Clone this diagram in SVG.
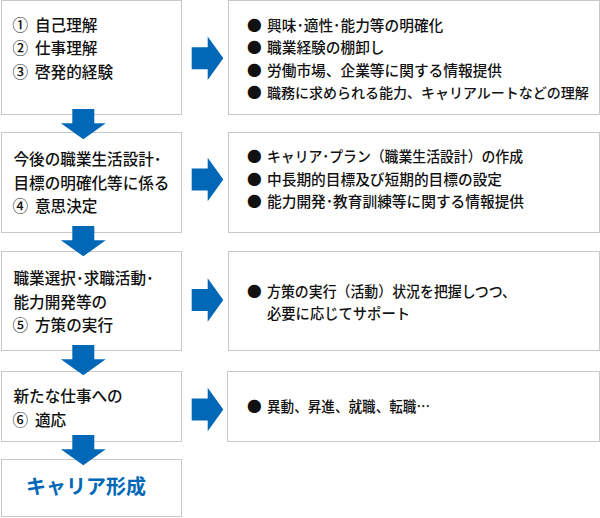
<svg xmlns="http://www.w3.org/2000/svg" xmlns:xlink="http://www.w3.org/1999/xlink" width="600" height="518" viewBox="0 0 600 518">
<style>
.box{fill:#fff;stroke:#c8c8c8;stroke-width:1}
.arw{fill:#0068b7}
.lt{font-family:"Noto Sans CJK JP","Noto Sans",sans-serif;font-size:15.6px;font-weight:500;fill:#111}
.rt{font-family:"Noto Sans CJK JP","Noto Sans",sans-serif;font-size:14.7px;font-weight:500;fill:#111}
.goal{font-family:"Noto Sans CJK JP","Noto Sans",sans-serif;font-size:20px;font-weight:bold;fill:#0068b7}
</style>
<defs>
<path id="ra" d="M0,-11 H16 V-21.7 L31.6,0 L16,21.7 V11 H0 Z"/>
<path id="da" d="M-11,0 H11 V14.3 H22.4 L0,30.3 L-22.4,14.3 H-11 Z"/>
</defs>
<g id="step1">
<rect class="box" x="1.5" y="0.5" width="180" height="114"/>
<text class="lt" y="31"><tspan x="12.5">①</tspan><tspan x="35">自己理解</tspan></text>
<text class="lt" y="54"><tspan x="12.5">②</tspan><tspan x="35">仕事理解</tspan></text>
<text class="lt" y="78"><tspan x="12.5">③</tspan><tspan x="35">啓発的経験</tspan></text>
</g>
<g id="detail1">
<rect class="box" x="228.5" y="0.5" width="371" height="114"/>
<text class="rt" y="30.5"><tspan x="247">●</tspan><tspan x="267">興味･適性･能力等の明確化</tspan></text>
<text class="rt" y="52.5"><tspan x="247">●</tspan><tspan x="267">職業経験の棚卸し</tspan></text>
<text class="rt" y="75.5"><tspan x="247">●</tspan><tspan x="267">労働市場、企業等に関する情報提供</tspan></text>
<text class="rt" y="97.5"><tspan x="247">●</tspan><tspan x="267" style="font-size:14px">職務に求められる能力、キャリアルートなどの理解</tspan></text>
</g>
<g id="step2">
<rect class="box" x="1.5" y="132.5" width="180" height="100"/>
<text class="lt" x="13.5" y="165">今後の職業生活設計･</text>
<text class="lt" x="13.5" y="189">目標の明確化等に係る</text>
<text class="lt" y="212"><tspan x="12.5">④</tspan><tspan x="35">意思決定</tspan></text>
</g>
<g id="detail2">
<rect class="box" x="228.5" y="132.5" width="371" height="100"/>
<text class="rt" y="162"><tspan x="247">●</tspan><tspan x="267" textLength="256" lengthAdjust="spacingAndGlyphs">キャリア･プラン（職業生活設計）の作成</tspan></text>
<text class="rt" y="184.5"><tspan x="247">●</tspan><tspan x="267">中長期的目標及び短期的目標の設定</tspan></text>
<text class="rt" y="206.5"><tspan x="247">●</tspan><tspan x="267">能力開発･教育訓練等に関する情報提供</tspan></text>
</g>
<g id="step3">
<rect class="box" x="1.5" y="251.5" width="180" height="99"/>
<text class="lt" x="13.5" y="284">職業選択･求職活動･</text>
<text class="lt" x="13.5" y="308">能力開発等の</text>
<text class="lt" y="331"><tspan x="12.5">⑤</tspan><tspan x="35">方策の実行</tspan></text>
</g>
<g id="detail3">
<rect class="box" x="228.5" y="251.5" width="371" height="99"/>
<text class="rt" y="297"><tspan x="247">●</tspan><tspan x="267" textLength="249" lengthAdjust="spacingAndGlyphs">方策の実行（活動）状況を把握しつつ、</tspan></text>
<text class="rt" x="267" y="319" textLength="143" lengthAdjust="spacingAndGlyphs">必要に応じてサポート</text>
</g>
<g id="step4">
<rect class="box" x="1.5" y="371.5" width="180" height="70"/>
<text class="lt" x="13.5" y="401.5">新たな仕事への</text>
<text class="lt" y="425.5"><tspan x="12.5">⑥</tspan><tspan x="35">適応</tspan></text>
</g>
<g id="detail4">
<rect class="box" x="227.5" y="371.5" width="372" height="70"/>
<text class="rt" y="411.5"><tspan x="247">●</tspan><tspan x="267" textLength="163" lengthAdjust="spacingAndGlyphs">異動、昇進、就職、転職…</tspan></text>
</g>
<g id="goal">
<rect class="box" x="1.5" y="459.5" width="180" height="57"/>
<text class="goal" x="86" y="493.5" text-anchor="middle">キャリア形成</text>
</g>
<g id="connectors">
<use xlink:href="#ra" class="arw" transform="translate(191.7,58.3)"/>
<use xlink:href="#ra" class="arw" transform="translate(191.7,179.5)"/>
<use xlink:href="#ra" class="arw" transform="translate(191.7,300)"/>
<use xlink:href="#ra" class="arw" transform="translate(191.7,409.5)"/>
<use xlink:href="#da" class="arw" transform="translate(83.3,109)"/>
<use xlink:href="#da" class="arw" transform="translate(83.3,226)"/>
<use xlink:href="#da" class="arw" transform="translate(83.3,345)"/>
<use xlink:href="#da" class="arw" transform="translate(83.3,435)"/>
</g>
</svg>
